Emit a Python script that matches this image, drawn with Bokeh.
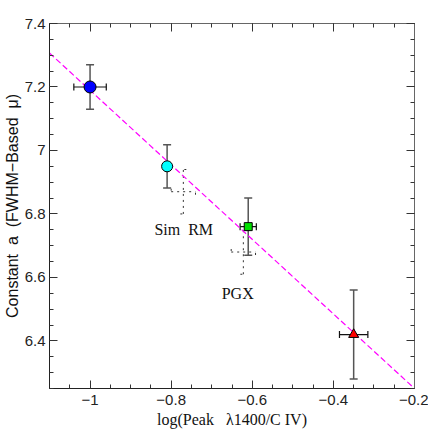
from bokeh.plotting import figure
from bokeh.models import (ColumnDataSource, Whisker, TeeHead, LinearAxis, Range1d,
                          FixedTicker, Label, CustomJSTickFormatter)
from bokeh.embed import file_html
from bokeh.resources import INLINE

# ---- data ----
pt_x = [-1.0, -0.81, -0.61, -0.35]
pt_y = [7.20, 6.95, 6.76, 6.42]
pt_xerr = [0.04, 0.0, 0.02, 0.035]
pt_yerr = [0.07, 0.068, 0.09, 0.14]
pt_color = ["#0000ff", "#00ffff", "#00e000", "#ff0000"]

sim_x = [-0.77, -0.622]
sim_y = [6.87, 6.68]
sim_xerr = [0.03, 0.03]
sim_yerr = [0.07, 0.07]
sim_names = ["Sim\u00a0 RM", "PGX"]
name_x = [-0.769, -0.636]
name_y = [6.75, 6.55]

fit_x = [-1.1, -0.2]
fit_y = [7.307, 6.25]

x_major = [-1.0, -0.8, -0.6, -0.4, -0.2]
y_major = [6.4, 6.6, 6.8, 7.0, 7.2, 7.4]
x_labels = {-1.0: "\u22121", -0.8: "\u22120.8", -0.6: "\u22120.6", -0.4: "\u22120.4", -0.2: "\u22120.2"}
y_labels = {6.4: "6.4", 6.6: "6.6", 6.8: "6.8", 7.0: "7", 7.2: "7.2", 7.4: "7.4"}

p = figure(frame_width=365, frame_height=365, output_backend="svg", toolbar_location=None,
           x_range=Range1d(-1.1, -0.2), y_range=Range1d(6.25, 7.4),
           min_border_left=39, min_border_top=23, min_border_right=14, min_border_bottom=38)
p.grid.visible = False
p.outline_line_color = "#555555"
p.background_fill_color = "white"

x_minor = [round(-1.1 + 0.05 * i, 3) for i in range(19)]
y_minor = [round(6.25 + 0.05 * i, 3) for i in range(24)]

def style(ax, labels_on, is_x):
    ax.ticker = FixedTicker(ticks=x_major if is_x else y_major,
                            minor_ticks=x_minor if is_x else y_minor)
    ax.major_tick_in = 8
    ax.major_tick_out = 0
    ax.minor_tick_in = 4
    ax.minor_tick_out = 0
    ax.axis_line_color = "#222222"
    ax.major_tick_line_color = "#333333"
    ax.minor_tick_line_color = "#333333"
    ax.major_label_text_font = "Liberation Sans"
    ax.major_label_text_font_size = "15px"
    ax.major_label_text_color = "#222222"
    if not labels_on:
        ax.formatter = CustomJSTickFormatter(code="return ''")
        ax.major_label_standoff = 0
        ax.axis_line_color = "#666666"

style(p.xaxis[0], True, True)
style(p.yaxis[0], True, False)
p.xaxis[0].major_label_overrides = x_labels
p.yaxis[0].major_label_overrides = y_labels
p.xaxis[0].major_label_standoff = 6
p.yaxis[0].major_label_standoff = 4
p.xaxis[0].axis_label = "log(Peak\u00a0\u00a0 \u03bb1400/C IV)"
p.xaxis[0].axis_label_text_font = "Liberation Serif"
p.xaxis[0].axis_label_text_font_style = "normal"
p.xaxis[0].axis_label_text_font_size = "16px"
p.xaxis[0].axis_label_text_color = "#111111"
p.xaxis[0].axis_label_standoff = 3
p.yaxis[0].axis_label = "Constant\u00a0 a\u00a0 (FWHM\u2212Based\u00a0 \u03bc)"
p.yaxis[0].axis_label_text_font = "Liberation Sans"
p.yaxis[0].axis_label_text_font_style = "normal"
p.yaxis[0].axis_label_text_font_size = "16px"
p.yaxis[0].axis_label_text_color = "#111111"
p.yaxis[0].axis_label_standoff = 1

top = LinearAxis()
style(top, False, True)
p.add_layout(top, "above")
right = LinearAxis()
style(right, False, False)
p.add_layout(right, "right")

# fit line
p.line(fit_x, fit_y, line_color="#ff00ff", line_dash="6 3", line_width=1.2)

# dotted simulation crosses
ss = ColumnDataSource(dict(x=sim_x, y=sim_y,
                           xl=[a - b for a, b in zip(sim_x, sim_xerr)],
                           xu=[a + b for a, b in zip(sim_x, sim_xerr)],
                           yl=[a - b for a, b in zip(sim_y, sim_yerr)],
                           yu=[a + b for a, b in zip(sim_y, sim_yerr)]))
for dim, lo, hi in [("height", "yl", "yu"), ("width", "xl", "xu")]:
    base = "x" if dim == "height" else "y"
    w = Whisker(source=ss, base=base, lower=lo, upper=hi, dimension=dim,
                line_color="#333333", line_dash="dotted", line_width=1,
                lower_head=TeeHead(size=6, line_color="#333333", line_dash="dotted"),
                upper_head=TeeHead(size=6, line_color="#333333", line_dash="dotted"))
    p.add_layout(w)

for nx, ny, nm in zip(name_x, name_y, sim_names):
    p.add_layout(Label(x=nx, y=ny, text=nm, text_font="Liberation Serif",
                       text_font_size="16px", text_align="center",
                       text_baseline="middle", text_color="#111111"))

# error bars for points
ps = ColumnDataSource(dict(x=pt_x, y=pt_y, c=pt_color,
                           xl=[a - b for a, b in zip(pt_x, pt_xerr)],
                           xu=[a + b for a, b in zip(pt_x, pt_xerr)],
                           yl=[a - b for a, b in zip(pt_y, pt_yerr)],
                           yu=[a + b for a, b in zip(pt_y, pt_yerr)]))
p.add_layout(Whisker(source=ps, base="x", lower="yl", upper="yu", dimension="height",
                     line_color="#555555", line_width=1.5,
                     lower_head=TeeHead(size=8, line_color="#555555", line_width=1.5),
                     upper_head=TeeHead(size=8, line_color="#555555", line_width=1.5)))
p.add_layout(Whisker(source=ps, base="y", lower="xl", upper="xu", dimension="width",
                     line_color="#111111", line_width=1.2,
                     lower_head=TeeHead(size=7, line_color="#111111", line_width=1.2),
                     upper_head=TeeHead(size=7, line_color="#111111", line_width=1.2)))

# markers
p.scatter(pt_x[0:1], pt_y[0:1], marker="circle", size=12, fill_color=pt_color[0], line_color="black")
p.scatter(pt_x[1:2], pt_y[1:2], marker="circle", size=11, fill_color=pt_color[1], line_color="black")
p.scatter(pt_x[2:3], pt_y[2:3], marker="square", size=8, fill_color=pt_color[2], line_color="black")
p.scatter(pt_x[3:4], pt_y[3:4], marker="triangle", size=10, fill_color=pt_color[3], line_color="black")

open("out.html", "w").write(file_html(p, INLINE))
